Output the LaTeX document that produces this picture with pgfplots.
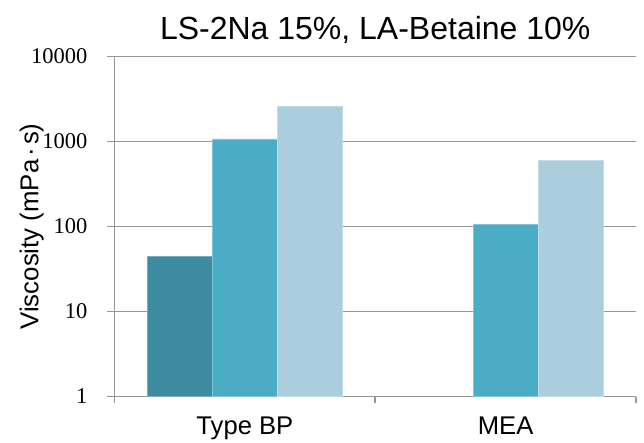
\documentclass[border=0pt]{standalone}
\usepackage{pgfplots}
\pgfplotsset{compat=1.18}
\usepackage{fontspec}
\setmainfont{Liberation Sans}
\newfontfamily\seriffont{Liberation Serif}
\definecolor{cdark}{RGB}{61,139,161}
\definecolor{cmid}{RGB}{75,172,198}
\definecolor{clight}{RGB}{170,206,221}
\definecolor{cgrid}{RGB}{150,150,150}
\begin{document}
\begin{tikzpicture}
\path[use as bounding box] (-114.5pt,-45.5pt) rectangle (529.5pt,396.5pt);
\begin{axis}[
  at={(0pt,0pt)}, anchor=south west,
  scale only axis, width=521.5pt, height=340pt,
  ymode=log, ymin=1, ymax=10000,
  xmin=-0.5, xmax=1.5,
  axis x line*=bottom, axis y line*=left,
  axis line style={draw=cgrid, line width=1.8pt, -},
  ymajorgrids, yminorgrids=false, yminorticks=false,
  grid style={draw=cgrid, line width=1.6pt},
  tick align=outside, major tick length=7pt,
  tick style={draw=cgrid, line width=1.6pt},
  ytick={1,10,100,1000,10000}, yticklabels={1,10,100,1000,10000},
  yticklabel style={font=\seriffont\fontsize{22.5}{22.5}\selectfont, anchor=east, inner sep=0pt, xshift=-20pt},
  xtick={-0.5,0.5,1.5}, xticklabels={,,},
  extra x ticks={0,1}, extra x tick labels={Type BP,MEA},
  extra x tick style={major tick length=0pt},
  xticklabel style={font=\fontsize{25.6}{25.6}\selectfont, anchor=base, inner sep=0pt, yshift=-38pt},
  title={LS-2Na 15\%, LA-Betaine 10\%},
  every axis title/.style={at={(axis description cs:0.5,1)}, anchor=base, yshift=17.2pt, font=\fontsize{32}{32}\selectfont},
  ylabel={Viscosity (mPa\kern3pt\textperiodcentered\kern3pt s)},
  every axis y label/.style={at={(axis description cs:-0.1461,0.5)}, rotate=90, anchor=base, font=\fontsize{25.8}{25.8}\selectfont},
]
\addplot[ybar, bar width=0.25, bar shift=-0.25, fill=cdark, draw=cdark!70!white, line width=0.8pt] coordinates {(0,44)};
\addplot[ybar, bar width=0.25, bar shift=0, fill=cmid, draw=cmid!70!white, line width=0.8pt] coordinates {(0,1070) (1,106)};
\addplot[ybar, bar width=0.25, bar shift=0.25, fill=clight, draw=clight!70!white, line width=0.8pt] coordinates {(0,2566) (1,601)};
\end{axis}
\end{tikzpicture}
\end{document}
